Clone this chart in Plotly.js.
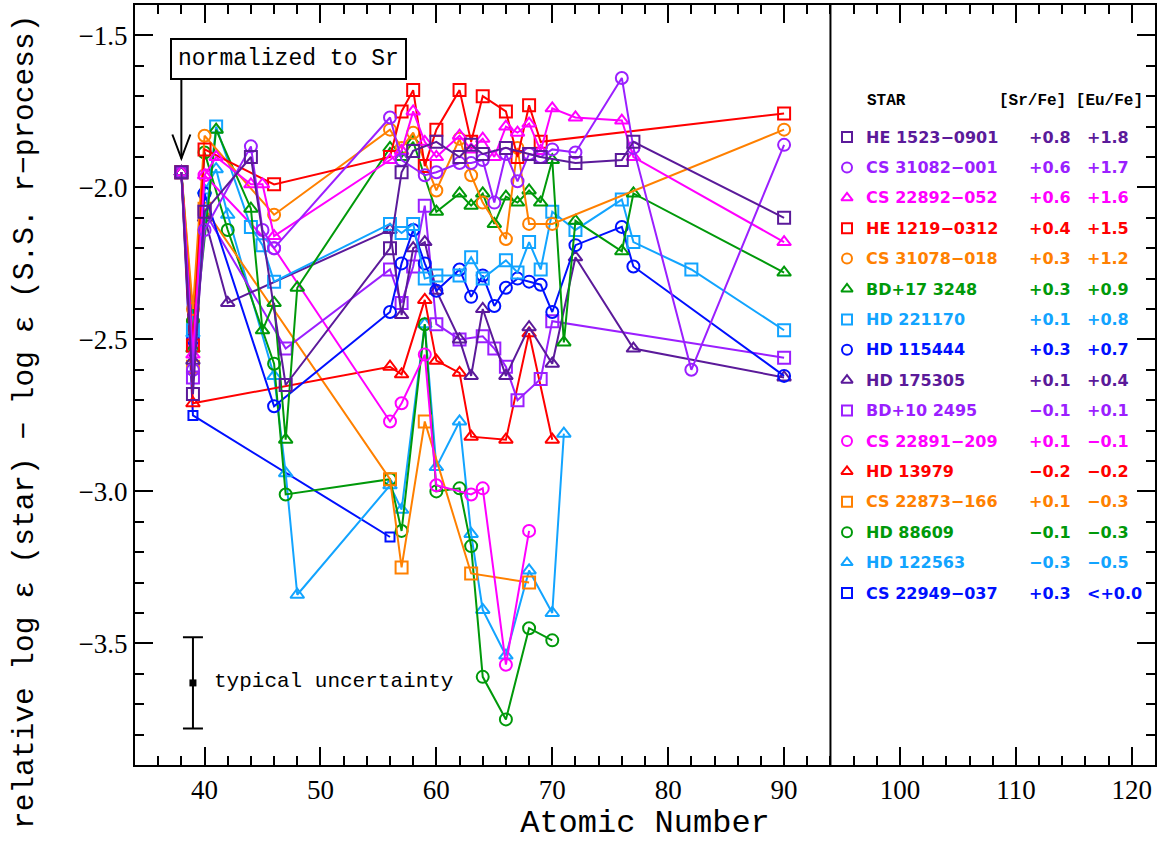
<!DOCTYPE html>
<html>
<head>
<meta charset="utf-8">
<script src="https://cdn.plot.ly/plotly-3.0.1.min.js"></script>
<style>
html,body{margin:0;padding:0;background:#fff;}
#chart{width:1167px;height:842px;}
</style>
</head>
<body>
<div id="chart"></div>
<script>
// ---------- DATA ----------
const starNames = ["HE 1523\u22120901","CS 31082\u2212001","CS 22892\u2212052","HE 1219\u22120312","CS 31078\u2212018","BD+17 3248","HD 221170","HD 115444","HD 175305","BD+10 2495","CS 22891\u2212209","HD 13979","CS 22873\u2212166","HD 88609","HD 122563","CS 22949\u2212037"];
const srFe = ["+0.8","+0.6","+0.6","+0.4","+0.3","+0.3","+0.1","+0.3","+0.1","\u22120.1","+0.1","\u22120.2","+0.1","\u22120.1","\u22120.3","+0.3"];
const euFe = ["+1.8","+1.7","+1.6","+1.5","+1.2","+0.9","+0.8","+0.7","+0.4","+0.1","\u22120.1","\u22120.2","\u22120.3","\u22120.3","\u22120.5","<+0.0"];

const he1523_Z = [38,39,40,44,47,56,57,58,60,62,63,64,66,68,69,72,76,77,90];
const he1523_v = [-1.95,-2.68,-2.08,-1.90,-2.65,-2.20,-1.95,-1.88,-1.85,-1.90,-1.86,-1.89,-1.87,-1.89,-1.90,-1.92,-1.91,-1.85,-2.10];

const cs31082_Z = [38,39,40,44,45,46,56,57,59,60,62,63,64,65,66,67,68,69,70,72,76,77,82,90];
const cs31082_v = [-1.95,-2.60,-2.14,-1.865,-2.14,-2.20,-1.77,-1.91,-1.96,-1.95,-1.92,-1.92,-1.91,-2.05,-1.89,-1.98,-1.89,-1.90,-1.875,-1.885,-1.64,-1.87,-2.60,-1.86];

const cs22892_Z = [38,39,40,41,44,45,46,56,57,58,59,60,62,63,64,65,66,67,68,69,70,72,76,77,90];
const cs22892_v = [-1.95,-2.55,-1.96,-1.90,-1.99,-1.99,-2.16,-1.91,-1.88,-1.75,-1.85,-1.90,-1.83,-1.875,-1.84,-1.90,-1.80,-1.82,-1.79,-1.88,-1.74,-1.77,-1.78,-1.90,-2.18];

const he1219_Z = [38,39,40,46,56,57,58,59,60,62,63,64,66,67,68,69,90];
const he1219_v = [-1.95,-2.52,-1.875,-1.99,-1.90,-1.75,-1.68,-1.93,-1.81,-1.68,-1.85,-1.70,-1.75,-1.90,-1.73,-1.85,-1.757];

const cs31078_Z = [38,39,40,46,56,57,58,60,62,63,64,66,67,68,70,90];
const cs31078_v = [-1.95,-2.40,-1.83,-2.09,-1.81,-1.87,-1.82,-2.01,-1.84,-1.96,-2.05,-2.17,-1.87,-2.12,-2.12,-1.81];

const bd17_Z = [38,39,41,44,45,46,47,48,56,57,58,60,62,63,64,65,66,67,68,69,70,71,72,76,77,90];
const bd17_v = [-1.95,-2.53,-1.81,-2.07,-2.47,-2.38,-2.83,-2.33,-1.87,-1.90,-1.85,-2.08,-2.02,-2.06,-2.02,-2.12,-2.03,-2.05,-2.01,-2.05,-1.91,-2.51,-2.11,-2.21,-2.02,-2.28];

const hd221170_Z = [38,39,41,44,45,46,56,57,58,59,60,62,63,64,66,67,68,69,70,72,76,77,82,90];
const hd221170_v = [-1.95,-2.47,-1.80,-2.13,-2.19,-2.31,-2.12,-2.15,-2.12,-2.30,-2.29,-2.29,-2.23,-2.30,-2.24,-2.28,-2.18,-2.27,-2.08,-2.14,-2.04,-2.18,-2.27,-2.47];

const hd115444_Z = [38,39,40,46,56,57,58,59,60,62,63,64,65,66,67,68,69,70,72,76,77,90];
const hd115444_v = [-1.95,-2.50,-2.02,-2.72,-2.41,-2.25,-2.14,-2.25,-2.34,-2.27,-2.36,-2.29,-2.39,-2.33,-2.30,-2.31,-2.32,-2.41,-2.19,-2.13,-2.26,-2.62];

const hd175305_Z = [38,39,40,42,56,57,58,59,60,62,63,64,66,68,70,72,77,90];
const hd175305_v = [-1.95,-2.57,-2.10,-2.38,-2.14,-2.42,-2.20,-2.18,-2.34,-2.50,-2.62,-2.40,-2.62,-2.46,-2.58,-2.23,-2.53,-2.625];

const bd10_Z = [38,39,40,47,56,57,58,59,60,62,64,65,66,67,69,70,90];
const bd10_v = [-1.95,-2.625,-2.08,-2.53,-2.27,-2.38,-2.26,-2.06,-2.45,-2.50,-2.49,-2.53,-2.59,-2.70,-2.63,-2.44,-2.56];

const cs22891_Z = [38,39,40,46,56,57,59,60,63,64,66,68];
const cs22891_v = [-1.95,-2.51,-1.96,-2.20,-2.77,-2.71,-2.55,-2.98,-3.01,-2.99,-3.57,-3.13];

const hd13979_Z = [38,39,56,57,59,60,62,63,66,68,70];
const hd13979_v = [-1.95,-2.71,-2.59,-2.615,-2.37,-2.57,-2.61,-2.82,-2.83,-2.48,-2.83];

const cs22873_Z = [38,39,40,56,57,59,63,68];
const cs22873_v = [-1.95,-2.59,-2.07,-2.96,-3.25,-2.77,-3.27,-3.30];

const hd88609_Z = [38,39,40,42,46,47,56,57,59,60,62,63,64,66,68,70];
const hd88609_v = [-1.95,-2.44,-1.885,-2.14,-2.58,-3.01,-2.96,-3.13,-2.45,-3.00,-2.99,-3.18,-3.61,-3.75,-3.45,-3.49];

const hd122563_Z = [38,39,40,41,42,46,47,48,56,57,59,60,62,63,64,66,68,70,71];
const hd122563_v = [-1.95,-2.48,-2.01,-1.94,-2.09,-2.62,-2.94,-3.34,-2.98,-3.06,-2.45,-2.92,-2.77,-3.14,-3.39,-3.54,-3.26,-3.40,-2.81];

const cs22949_Z = [38,39,56];
const cs22949_v = [-1.95,-2.75,-3.15];

const uncZ = [39];
const uncV = [-3.63];
const uncErr = [0.15];

// ---------- STYLE ----------
const DKPURPLE = "#5b1a9a", PURPLE = "#9b1fff", MAGENTA = "#ff00ff", RED = "#ff0000",
      ORANGE = "#ff8000", GREEN = "#00990a", LTBLUE = "#12a4ff", BLUE = "#0010ff";

const series = [
  [he1523_Z, he1523_v, DKPURPLE, "square-open"],
  [cs31082_Z, cs31082_v, PURPLE, "circle-open"],
  [cs22892_Z, cs22892_v, MAGENTA, "triangle-up-open"],
  [he1219_Z, he1219_v, RED, "square-open"],
  [cs31078_Z, cs31078_v, ORANGE, "circle-open"],
  [bd17_Z, bd17_v, GREEN, "triangle-up-open"],
  [hd221170_Z, hd221170_v, LTBLUE, "square-open"],
  [hd115444_Z, hd115444_v, BLUE, "circle-open"],
  [hd175305_Z, hd175305_v, DKPURPLE, "triangle-up-open"],
  [bd10_Z, bd10_v, PURPLE, "square-open"],
  [cs22891_Z, cs22891_v, MAGENTA, "circle-open"],
  [hd13979_Z, hd13979_v, RED, "triangle-up-open"],
  [cs22873_Z, cs22873_v, ORANGE, "square-open"],
  [hd88609_Z, hd88609_v, GREEN, "circle-open"],
  [hd122563_Z, hd122563_v, LTBLUE, "triangle-up-open"],
  [cs22949_Z, cs22949_v, BLUE, "square-open"]
];

const traces = [];
series.slice().reverse().forEach((s, k) => {
  const i = series.length - 1 - k;
  traces.push({
    x: s[0], y: s[1], type: "scatter", mode: "lines+markers", name: starNames[i],
    line: {color: s[2], width: 2},
    marker: {symbol: s[3], color: s[2], size: (i === 15 ? 9 : 12), line: {width: 2, color: s[2]}},
    hoverinfo: "skip", showlegend: false
  });
});
traces.push({
  x: uncZ, y: uncV, type: "scatter", mode: "markers",
  marker: {symbol: "square", color: "#000", size: 7},
  error_y: {type: "data", array: uncErr, visible: true, color: "#000", thickness: 2, width: 10},
  showlegend: false, hoverinfo: "skip"
});

// ---------- LAYOUT ----------
const L = 135, R = 1155, T = 5, B = 765;
const ROW0 = 137, ROWH = 30.4;
const px2paperX = p => (p - L) / (R - L);
const px2paperY = p => (B - p) / (B - T);
const pxToZ = p => 34 + (p - L) * 88 / (R - L);

// key symbols drawn as markers on an overlay axis whose units are legend rows
traces.push({
  x: starNames.map(() => pxToZ(847)),
  y: starNames.map((_, i) => i),
  xaxis: "x2", yaxis: "y2", type: "scatter", mode: "markers",
  marker: {symbol: series.map(s => s[3]), color: series.map(s => s[2]), size: 10,
           line: {width: 2, color: series.map(s => s[2])}},
  showlegend: false, hoverinfo: "skip"
});

const ann = [];
const legFont = "DejaVu Sans, Arial, sans-serif";
ann.push({xref:"paper", yref:"paper", x:px2paperX(865), y:px2paperY(101), xanchor:"left", yanchor:"middle",
  text:"<b>STAR</b>", showarrow:false, font:{family:"Liberation Mono, monospace", size:16, color:"#000"}});
ann.push({xref:"paper", yref:"paper", x:px2paperX(997), y:px2paperY(101), xanchor:"left", yanchor:"middle",
  text:"<b>[Sr/Fe] [Eu/Fe]</b>", showarrow:false, font:{family:"Liberation Mono, monospace", size:16, color:"#000"}});
starNames.forEach((n, i) => {
  const py = ROW0 + i * ROWH;
  const c = series[i][2];
  ann.push({xref:"paper", yref:"paper", x:px2paperX(864), y:px2paperY(py), xanchor:"left", yanchor:"middle",
    text:"<b>"+n+"</b>", showarrow:false, font:{family:legFont, size:16, color:c}});
  ann.push({xref:"paper", yref:"paper", x:px2paperX(1027), y:px2paperY(py), xanchor:"left", yanchor:"middle",
    text:"<b>"+srFe[i]+"</b>", showarrow:false, font:{family:legFont, size:16, color:c}});
  ann.push({xref:"paper", yref:"paper", x:px2paperX(1085), y:px2paperY(py), xanchor:"left", yanchor:"middle",
    text:"<b>"+euFe[i]+"</b>", showarrow:false, font:{family:legFont, size:16, color:c}});
});
// normalized box
ann.push({xref:"x", yref:"y", x:37.05, y:-1.579, xanchor:"left", yanchor:"middle",
  text:"normalized to Sr", showarrow:false, bordercolor:"#000", borderwidth:2, borderpad:6, bgcolor:"#fff",
  font:{family:"Liberation Mono, monospace", size:23, color:"#000"}});
// uncertainty label
ann.push({xref:"x", yref:"y", x:40.6, y:-3.625, xanchor:"left", yanchor:"middle",
  text:"typical uncertainty", showarrow:false, font:{family:"Liberation Mono, monospace", size:21, color:"#000"}});
// y title
ann.push({xref:"paper", yref:"paper", x:px2paperX(25), y:px2paperY(422), xanchor:"center", yanchor:"middle",
  text:"relative log \u03b5 (star) \u2212 log \u03b5 (S.S. r\u2212process)", textangle:-90, showarrow:false,
  font:{family:"Liberation Mono, monospace", size:29.5, color:"#000"}});

const shapes = [
  {type:"line", xref:"x", yref:"paper", x0:94, x1:94, y0:0, y1:1, line:{color:"#000", width:2}},
  {type:"line", xref:"x", yref:"y", xsizemode:"pixel", ysizemode:"pixel", xanchor:38, yanchor:-1.905,
   x0:0, x1:0, y0:0, y1:80, line:{color:"#000", width:2}},
  {type:"path", xref:"x", yref:"y", xsizemode:"pixel", ysizemode:"pixel", xanchor:38, yanchor:-1.905,
   path:"M -9 24 L 0 0 L 9 24", line:{color:"#000", width:2}}
];

const layout = {
  width:1167, height:842,
  margin:{l:L, r:1167-R, t:T, b:842-B},
  paper_bgcolor:"#fff", plot_bgcolor:"#fff",
  showlegend:false,
  xaxis:{range:[34,122], showgrid:false, zeroline:false, showline:true, linecolor:"#000", linewidth:2,
    mirror:"allticks", ticks:"inside", ticklen:18, tickwidth:2, tickcolor:"#000", dtick:10, tick0:0,
    minor:{ticks:"inside", ticklen:9, tickwidth:2, dtick:2, tickcolor:"#000", showgrid:false},
    tickfont:{family:"Liberation Serif, serif", size:27, color:"#000"},
    title:{text:"Atomic Number", font:{family:"Liberation Mono, monospace", size:32, color:"#000"}, standoff:8}},
  yaxis:{range:[-3.9,-1.4], showgrid:false, zeroline:false, showline:true, linecolor:"#000", linewidth:2,
    mirror:"allticks", ticks:"inside", ticklen:18, tickwidth:2, tickcolor:"#000", dtick:0.5, tick0:0,
    tickformat:".1f",
    minor:{ticks:"inside", ticklen:9, tickwidth:2, dtick:0.1, tickcolor:"#000", showgrid:false},
    tickfont:{family:"Liberation Serif, serif", size:27, color:"#000"}},
  xaxis2:{overlaying:"x", range:[34,122], visible:false, fixedrange:true},
  yaxis2:{overlaying:"y", range:[(B - ROW0) / ROWH, (T - ROW0) / ROWH], visible:false, fixedrange:true},
  annotations: ann,
  shapes: shapes
};

Plotly.newPlot("chart", traces, layout, {displayModeBar:false, staticPlot:true});
</script>
</body>
</html>
